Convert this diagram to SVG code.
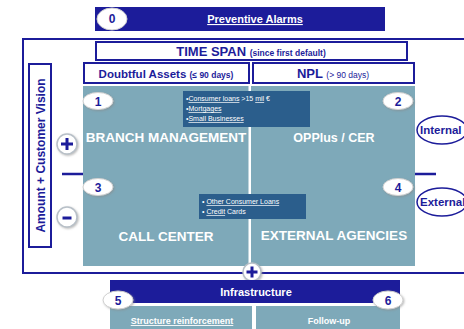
<svg xmlns="http://www.w3.org/2000/svg" width="464" height="329" viewBox="0 0 464 329">
<defs>
<style>
.dk{fill:#1c1c9a}
.gr{fill:#7ea9b9}
.bx{fill:#fff;stroke:#1c1c9a;stroke-width:2}
.num{fill:#fff;stroke:#d0d0d0;stroke-width:1}
.nt{font-family:"Liberation Sans",Arial,sans-serif;font-weight:bold;font-size:12px;fill:#1c1c9a;text-anchor:middle}
.wt{font-family:"Liberation Sans",Arial,sans-serif;font-weight:bold;fill:#fff;text-anchor:middle}
.bt{font-family:"Liberation Sans",Arial,sans-serif;font-size:7px;fill:#fff}
.bl{font-family:"Liberation Sans",Arial,sans-serif;font-weight:bold;fill:#1c1c9a}
.ln{stroke:#1c1c9a;fill:none}
.pm{fill:#fff;stroke:#b8c0c8;stroke-width:1.5}
.sym{stroke:#1c1c9a;stroke-width:3;fill:none}
</style>
<filter id="sh" x="-30%" y="-30%" width="160%" height="160%"><feDropShadow dx="1" dy="1" stdDeviation="0.8" flood-color="#888" flood-opacity="0.6"/></filter>
</defs>

<g id="connectors">
<path class="ln" stroke-width="2" d="M464 39 H23 V273 H464"/>
<line class="ln" stroke-width="2.5" x1="62" y1="174" x2="436" y2="174"/>
</g>

<g id="preventive-alarms">
<rect class="dk" x="95" y="7" width="290" height="24"/>
<text class="wt" x="255" y="23" font-size="11" text-decoration="underline">Preventive Alarms</text>
<ellipse class="num" cx="112" cy="19" rx="15" ry="11"/>
<text class="nt" x="112" y="23" font-size="11">0</text>
</g>

<g id="time-span">
<rect class="bx" x="96" y="42" width="311" height="18"/>
<text class="bl" x="251" y="56" text-anchor="middle" font-size="13">TIME SPAN <tspan font-size="8.5">(since first default)</tspan></text>
</g>

<g id="doubtful-assets">
<rect class="bx" x="84" y="63" width="165" height="20"/>
<text class="bl" x="166" y="77.5" text-anchor="middle" font-size="11.5" font-weight="normal">Doubtful Assets <tspan font-size="8.5">(≤ 90 days)</tspan></text>
</g>

<g id="npl">
<rect class="bx" x="253" y="63" width="161" height="20"/>
<text class="bl" x="333" y="77.5" text-anchor="middle" font-size="13">NPL <tspan font-size="8.5" font-weight="normal">(&gt; 90 days)</tspan></text>
</g>

<g id="amount-vision">
<rect class="bx" x="29" y="64" width="22" height="183"/>
<text class="bl" transform="translate(44.5 155.5) rotate(-90)" text-anchor="middle" font-size="12">Amount + Customer Vision</text>
</g>

<g id="quadrants">
<rect class="gr" x="83" y="86" width="332" height="180"/>
<rect fill="#fff" x="248.5" y="86" width="2.5" height="180"/>
</g>

<g id="branch-management">
<text class="wt" x="166" y="142" font-size="13.5">BRANCH MANAGEMENT</text>
<ellipse class="num" cx="98" cy="101" rx="15" ry="8.5" filter="url(#sh)"/>
<text class="nt" x="98" y="105.5">1</text>
</g>

<g id="opplus-cer">
<text class="wt" x="334" y="142" font-size="12.5" font-weight="normal">OPPlus / CER</text>
<ellipse class="num" cx="398" cy="101" rx="15" ry="8.5" filter="url(#sh)"/>
<text class="nt" x="398" y="105.5">2</text>
</g>

<g id="call-center">
<text class="wt" x="166" y="241" font-size="13.5">CALL CENTER</text>
<ellipse class="num" cx="98" cy="187" rx="15" ry="8.5" filter="url(#sh)"/>
<text class="nt" x="98" y="191.5">3</text>
</g>

<g id="external-agencies">
<text class="wt" x="334" y="240" font-size="13.5">EXTERNAL AGENCIES</text>
<ellipse class="num" cx="398" cy="187" rx="15" ry="8.5" filter="url(#sh)"/>
<text class="nt" x="398" y="191.5">4</text>
</g>

<g id="products-1">
<rect fill="#2b5e8c" x="183" y="91" width="127" height="36"/>
<text class="bt" x="186" y="101">•<tspan text-decoration="underline">Consumer loans</tspan> &gt;15 <tspan text-decoration="underline">mil</tspan> €</text>
<text class="bt" x="186" y="111">•<tspan text-decoration="underline">Mortgages</tspan></text>
<text class="bt" x="186" y="121">•<tspan text-decoration="underline">Small Businesses</tspan></text>
</g>

<g id="products-2">
<rect fill="#2b5e8c" x="199" y="194" width="107" height="25"/>
<text class="bt" x="202" y="204">• <tspan text-decoration="underline">Other Consumer Loans</tspan></text>
<text class="bt" x="202" y="214">• <tspan text-decoration="underline">Credit</tspan> Cards</text>
</g>

<g id="plus-top">
<circle class="pm" cx="67" cy="144" r="10" filter="url(#sh)"/>
<path class="sym" d="M61 144 H73 M67 138 V150"/>
</g>

<g id="minus">
<circle class="pm" cx="67" cy="217" r="10" filter="url(#sh)"/>
<path class="sym" d="M62.5 218 H71.5"/>
</g>

<g id="internal">
<ellipse fill="#fff" stroke="#1c1c9a" stroke-width="1.5" cx="442" cy="130" rx="25" ry="14"/>
<text class="bl" x="420" y="134" font-size="11.5">Internal</text>
</g>

<g id="external">
<ellipse fill="#fff" stroke="#1c1c9a" stroke-width="1.5" cx="442" cy="202" rx="25" ry="14"/>
<text class="bl" x="420" y="206" font-size="11.5">External</text>
</g>

<g id="plus-bottom">
<circle class="pm" cx="252" cy="272" r="9" filter="url(#sh)"/>
<path class="sym" d="M246.5 272 H257.5 M252 266.5 V277.5" stroke-width="2.5"/>
</g>

<g id="infrastructure">
<rect class="dk" x="110" y="280" width="290" height="23"/>
<text class="wt" x="256" y="296" font-size="11">Infrastructure</text>
</g>

<g id="structure-reinforcement">
<rect class="gr" x="110" y="306" width="142" height="23"/>
<text class="wt" x="182" y="324" font-size="9" text-decoration="underline">Structure reinforcement</text>
<ellipse class="num" cx="118" cy="300" rx="15" ry="9" filter="url(#sh)"/>
<text class="nt" x="118" y="304.5" font-size="11">5</text>
</g>

<g id="follow-up">
<rect class="gr" x="256" y="306" width="144" height="23"/>
<text class="wt" x="329" y="324" font-size="9">Follow-up</text>
<ellipse class="num" cx="388" cy="300" rx="15" ry="9" filter="url(#sh)"/>
<text class="nt" x="388" y="304.5" font-size="11">6</text>
</g>
</svg>
